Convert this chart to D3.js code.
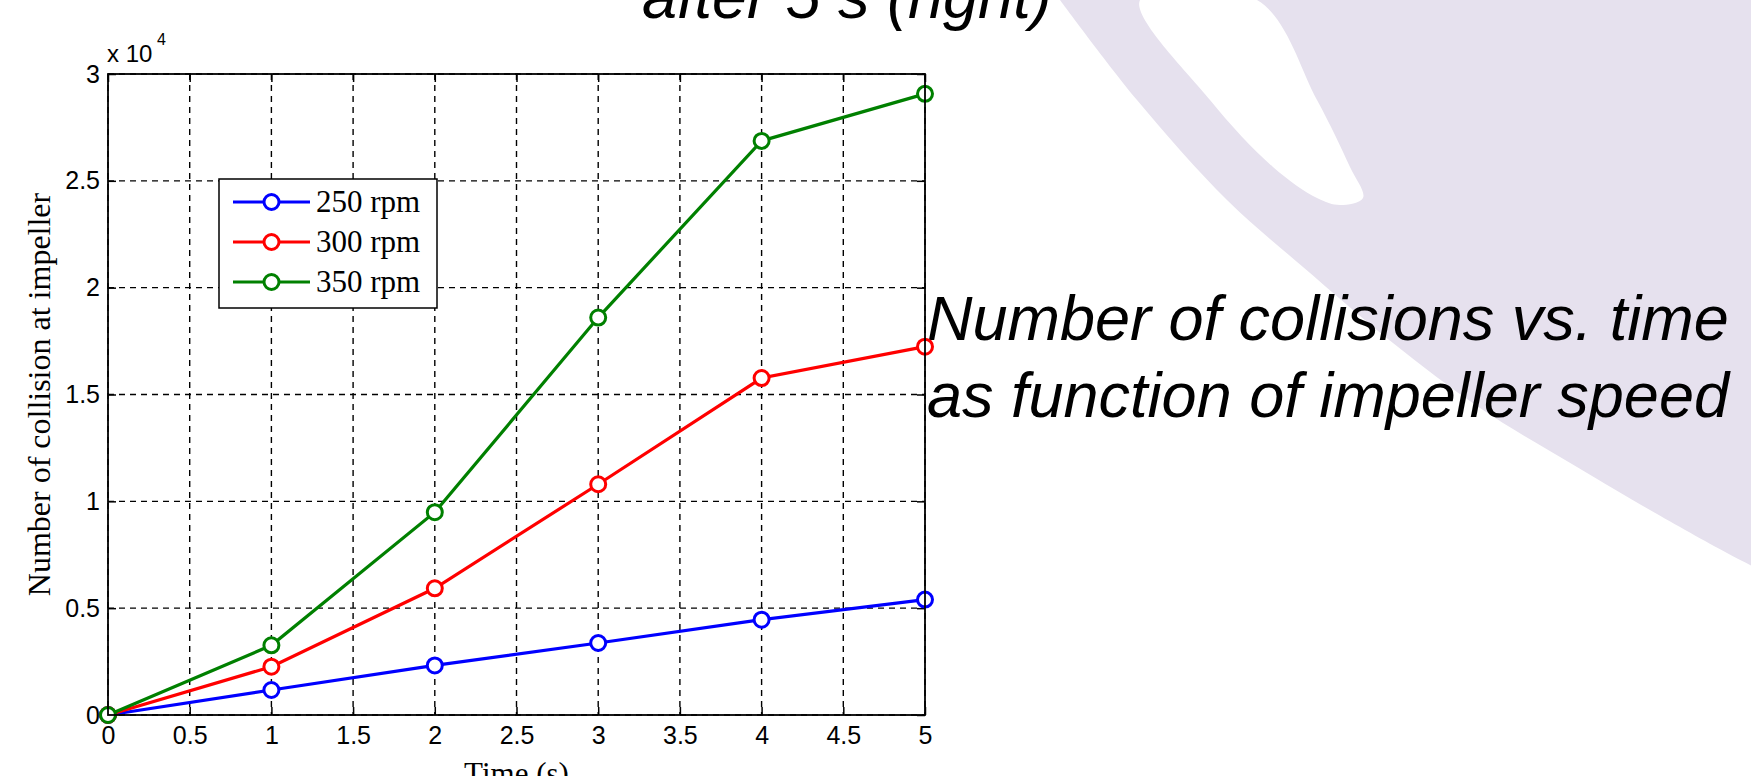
<!DOCTYPE html>
<html>
<head>
<meta charset="utf-8">
<script src="https://cdn.jsdelivr.net/npm/d3@7"></script>
<style>
  body { margin: 0; background: #fff; }
  svg { display: block; }
  .tick text { font-family: "Liberation Sans", Arial, sans-serif; font-size: 25px; fill: #000; }
  .tick line { stroke: #000; stroke-width: 1.5; }
</style>
</head>
<body>
<div id="chart"></div>
<script>
// data (counts)
var times = [0, 1, 2, 3, 4, 5];
var seriesNames = ["250 rpm", "300 rpm", "350 rpm"];
var seriesColors = ["#0000ff", "#ff0000", "#008000"];
var rpm250 = [0, 1170, 2320, 3370, 4460, 5400];
var rpm300 = [0, 2260, 5930, 10800, 15770, 17240];
var rpm350 = [0, 3260, 9490, 18600, 26870, 29070];
var xTicks = [0, 0.5, 1, 1.5, 2, 2.5, 3, 3.5, 4, 4.5, 5];
var yTicks = [0, 5000, 10000, 15000, 20000, 25000, 30000];

var svgWidth = 1751;
var svgHeight = 776;

var margin = { top: 74, right: 826, bottom: 61, left: 108 };
var width = svgWidth - margin.left - margin.right;
var height = svgHeight - margin.top - margin.bottom;

var svg = d3.select("#chart")
    .append("svg")
    .attr("width", svgWidth)
    .attr("height", svgHeight);

// slide background swoosh
var swoosh = [[1060, 0], [1137, 100], [1227, 200], [1303, 267], [1393, 343],
    [1480, 408], [1577, 467], [1650, 510], [1727, 553], [1760, 570]];
var edge = d3.line().curve(d3.curveCatmullRom);
svg.append("path")
    .attr("d", edge(swoosh) + "L1760,0L1060,0Z")
    .attr("fill", "#e6e1ee");

var stripe = [[1140, 0], [1210, 100], [1273, 167], [1317, 198], [1340, 205],
    [1363, 198], [1350, 167], [1317, 100], [1257, 0]];
svg.append("path")
    .attr("d", d3.line().curve(d3.curveCatmullRomClosed)(stripe))
    .attr("fill", "#fff");

// titles from the slide
svg.append("text")
    .attr("x", 642)
    .attr("y", 18)
    .attr("font-family", "Liberation Sans, Arial, sans-serif")
    .attr("font-style", "italic")
    .attr("font-size", 63)
    .text("after 5 s (right)");

var note = svg.append("text")
    .attr("font-family", "Liberation Sans, Arial, sans-serif")
    .attr("font-style", "italic")
    .attr("font-size", 63);
note.append("tspan").attr("x", 927).attr("y", 340).text("Number of collisions vs. time");
note.append("tspan").attr("x", 927).attr("y", 417).text("as function of impeller speed");

var chartGroup = svg.append("g")
    .attr("transform", `translate(${margin.left}, ${margin.top})`);

chartGroup.append("rect")
    .attr("width", width)
    .attr("height", height)
    .attr("fill", "#fff");

var xScale = d3.scaleLinear().domain([0, 5]).range([0, width]);
var yScale = d3.scaleLinear().domain([0, 30000]).range([height, 0]);

// grid
chartGroup.selectAll(".vgrid")
    .data(xTicks)
    .enter()
    .append("line")
    .attr("x1", d => xScale(d))
    .attr("x2", d => xScale(d))
    .attr("y1", 0)
    .attr("y2", height)
    .attr("stroke", "#000")
    .attr("stroke-width", 1.4)
    .attr("stroke-dasharray", "6,5");

chartGroup.selectAll(".hgrid")
    .data(yTicks)
    .enter()
    .append("line")
    .attr("y1", d => yScale(d))
    .attr("y2", d => yScale(d))
    .attr("x1", 0)
    .attr("x2", width)
    .attr("stroke", "#000")
    .attr("stroke-width", 1.4)
    .attr("stroke-dasharray", "6,5");

// axes, MATLAB style inward ticks
var bottomAxis = d3.axisBottom(xScale).tickValues(xTicks)
    .tickSizeInner(-8).tickSizeOuter(0).tickPadding(11)
    .tickFormat(d => String(d));
var leftAxis = d3.axisLeft(yScale).tickValues(yTicks)
    .tickSizeInner(-8).tickSizeOuter(0).tickPadding(8)
    .tickFormat(d => String(d / 10000));

var gx = chartGroup.append("g")
    .attr("transform", `translate(0, ${height})`)
    .call(bottomAxis);
var gy = chartGroup.append("g").call(leftAxis);

var gt = chartGroup.append("g")
    .call(d3.axisTop(xScale).tickValues(xTicks).tickSizeInner(-8).tickSizeOuter(0).tickFormat(""));
var gr = chartGroup.append("g")
    .attr("transform", `translate(${width}, 0)`)
    .call(d3.axisRight(yScale).tickValues(yTicks).tickSizeInner(-8).tickSizeOuter(0).tickFormat(""));

[gx, gy, gt, gr].forEach(g => g.select(".domain").remove());

// series
var allSeries = [rpm250, rpm300, rpm350];
var line = d3.line()
    .x((d, i) => xScale(times[i]))
    .y(d => yScale(d));

allSeries.forEach(function (values, k) {
    chartGroup.append("path")
        .datum(values)
        .attr("d", line)
        .attr("fill", "none")
        .attr("stroke", seriesColors[k])
        .attr("stroke-width", 3.2);

    chartGroup.selectAll(".m" + k)
        .data(values)
        .enter()
        .append("circle")
        .attr("cx", (d, i) => xScale(times[i]))
        .attr("cy", d => yScale(d))
        .attr("r", 7.5)
        .attr("fill", "#fff")
        .attr("stroke", seriesColors[k])
        .attr("stroke-width", 3);
});

// frame
chartGroup.append("rect")
    .attr("width", width)
    .attr("height", height)
    .attr("fill", "none")
    .attr("stroke", "#000")
    .attr("stroke-width", 1.8);

// exponent label
chartGroup.append("text")
    .attr("x", -1)
    .attr("y", -12)
    .attr("font-family", "Liberation Sans, Arial, sans-serif")
    .attr("font-size", 24)
    .text("x 10");
chartGroup.append("text")
    .attr("x", 49)
    .attr("y", -29)
    .attr("font-family", "Liberation Sans, Arial, sans-serif")
    .attr("font-size", 16)
    .text("4");

// axis labels
svg.append("text")
    .attr("transform", `translate(50, ${margin.top + height / 2}) rotate(-90)`)
    .attr("text-anchor", "middle")
    .attr("font-family", "Liberation Serif, Times New Roman, serif")
    .attr("font-size", 32)
    .text("Number of collision at impeller");

svg.append("text")
    .attr("x", margin.left + width / 2)
    .attr("y", 784)
    .attr("text-anchor", "middle")
    .attr("font-family", "Liberation Serif, Times New Roman, serif")
    .attr("font-size", 31)
    .text("Time (s)");

// legend
var legend = svg.append("g").attr("transform", "translate(219, 179)");
legend.append("rect")
    .attr("width", 218)
    .attr("height", 129)
    .attr("fill", "#fff")
    .attr("stroke", "#000")
    .attr("stroke-width", 1.5);

var rows = legend.selectAll(".row")
    .data(seriesNames)
    .enter()
    .append("g")
    .attr("transform", (d, i) => `translate(0, ${23 + i * 40})`);

rows.append("line")
    .attr("x1", 14)
    .attr("x2", 91)
    .attr("stroke", (d, i) => seriesColors[i])
    .attr("stroke-width", 3.2);
rows.append("circle")
    .attr("cx", 52.5)
    .attr("r", 7.5)
    .attr("fill", "#fff")
    .attr("stroke", (d, i) => seriesColors[i])
    .attr("stroke-width", 3);
rows.append("text")
    .attr("x", 97)
    .attr("y", 10)
    .attr("font-family", "Liberation Serif, Times New Roman, serif")
    .attr("font-size", 31)
    .text(d => d);
</script>
</body>
</html>
